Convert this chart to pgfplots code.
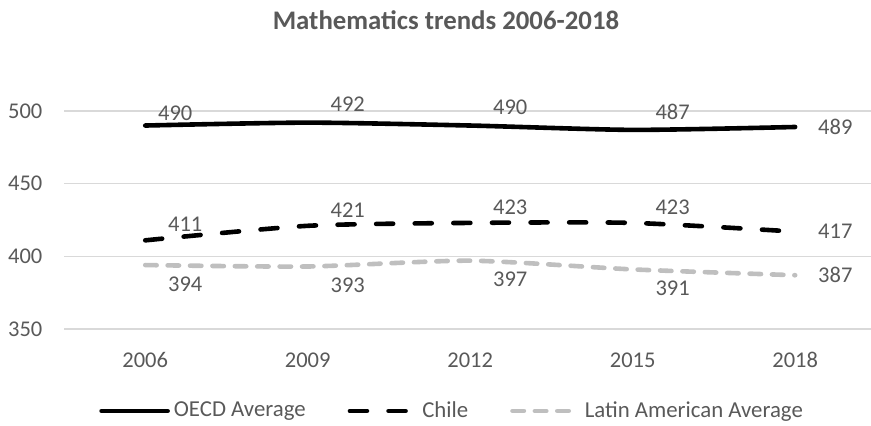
\documentclass[border=0pt]{standalone}
\usepackage{fontspec}
\setmainfont{Carlito}
\usepackage{pgfplots}
\pgfplotsset{compat=1.18}
\definecolor{txt}{HTML}{595959}
\definecolor{grd}{HTML}{D9D9D9}
\definecolor{lat}{HTML}{BFBFBF}
\begin{document}
\begin{tikzpicture}
\useasboundingbox (0,0) rectangle (435.5pt,213pt);
\node[font=\fontsize{13.4}{16}\selectfont\bfseries, text=txt] at (223pt,203pt) {Mathematics trends 2006-2018};
\begin{axis}[
  at={(32pt,48.5pt)}, anchor=south west,
  scale only axis, width=403.6pt, height=109pt,
  xmin=-0.5, xmax=4.468, ymin=350, ymax=500,
  xtick={0,1,2,3,4}, xticklabels={2006,2009,2012,2015,2018},
  ytick={350,400,450,500},
  /pgf/number format/assume math mode=true,
  axis line style={draw=none}, tick style={draw=none},
  ymajorgrids, grid style={color=grd, line width=0.65pt},
  ticklabel style={font=\fontsize{11.25}{13}\selectfont, text=txt},
  yticklabel style={anchor=east, xshift=-7.3pt},
  xticklabel style={anchor=center, yshift=-15.5pt},
  clip=false,
  legend columns=3,
  legend style={at={(0.482,-0.376)}, anchor=center, draw=none, fill=none,
    font=\fontsize{11.4}{13}\selectfont, text=txt,
    /tikz/every even column/.append style={column sep=19pt},
    inner sep=0pt},
  legend image code/.code={\draw[#1] (0pt,0pt) -- (33pt,0pt);},
  every node near coord/.append style={font=\fontsize{11.25}{13}\selectfont, text=txt},
]
% OECD
\addplot[black, line width=2.3pt, smooth, tension=0.4, line cap=round] coordinates {(0,490) (1,492) (2,490) (3,487) (4,489)};
\addlegendentry{OECD Average}
% Chile
\addplot[black, line width=2.3pt, smooth, tension=0.4, line cap=round, dash pattern=on 8.5pt off 10.8pt] coordinates {(0,411) (1,421) (2,423) (3,423) (4,417)};
\addlegendentry{Chile}
% Latin America
\addplot[lat, line width=2.3pt, smooth, tension=0.4, line cap=round, dash pattern=on 5.7pt off 5.5pt] coordinates {(0,394) (1,393) (2,397) (3,391) (4,387)};
\addlegendentry{Latin American Average}

% labels OECD
\addplot[forget plot, draw=none, nodes near coords, every node near coord/.append style={anchor=center, xshift=15pt, yshift=6.3pt}] coordinates {(0,490)};
\addplot[forget plot, draw=none, nodes near coords, every node near coord/.append style={anchor=center, xshift=20pt, yshift=9pt}] coordinates {(1,492) (2,490) (3,487)};
\addplot[forget plot, draw=none, nodes near coords, every node near coord/.append style={anchor=west, xshift=8pt}] coordinates {(4,489)};
% labels Chile
\addplot[forget plot, draw=none, nodes near coords, every node near coord/.append style={anchor=center, xshift=20pt, yshift=8pt}] coordinates {(0,411) (1,421) (2,423) (3,423)};
\addplot[forget plot, draw=none, nodes near coords, every node near coord/.append style={anchor=west, xshift=8pt}] coordinates {(4,417)};
% labels Latin
\addplot[forget plot, draw=none, nodes near coords, every node near coord/.append style={anchor=center, xshift=20pt, yshift=-9.5pt}] coordinates {(0,394) (1,393) (2,397) (3,391)};
\addplot[forget plot, draw=none, nodes near coords, every node near coord/.append style={anchor=west, xshift=8pt}] coordinates {(4,387)};
\end{axis}
\end{tikzpicture}
\end{document}
